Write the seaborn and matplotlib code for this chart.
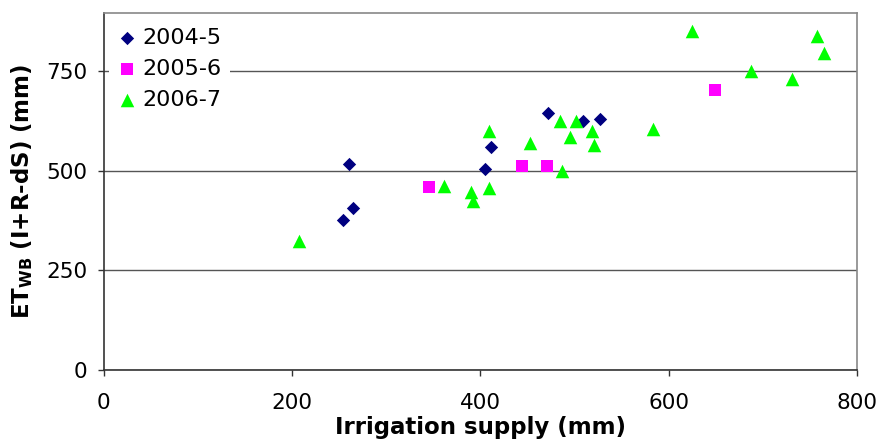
import matplotlib
matplotlib.use("Agg")
import matplotlib.pyplot as plt
import seaborn as sns
import pandas as pd

# 2004-5 season
x_0405 = [254, 261, 265, 405, 411, 472, 509, 527]
y_0405 = [376, 517, 406, 506, 561, 646, 626, 631]
# 2005-6 season
x_0506 = [346, 444, 471, 649]
y_0506 = [459, 513, 513, 703]
# 2006-7 season
x_0607 = [208, 362, 390, 392, 409, 409, 453, 485, 487, 495, 502, 519, 521, 583, 625, 688, 731, 758, 765]
y_0607 = [325, 461, 446, 425, 457, 601, 570, 625, 501, 585, 625, 601, 565, 605, 851, 751, 732, 840, 796]

seasons = ["2004-5", "2005-6", "2006-7"]
x_ticks = [0, 200, 400, 600, 800]
y_ticks = [0, 250, 500, 750]

df = pd.DataFrame({
    "x": x_0405 + x_0506 + x_0607,
    "y": y_0405 + y_0506 + y_0607,
    "season": [seasons[0]] * len(x_0405) + [seasons[1]] * len(x_0506) + [seasons[2]] * len(x_0607),
})

sns.set_style("white")
plt.rcParams["font.family"] = ["DejaVu Sans"]

fig = plt.figure(figsize=(8.78, 4.41), dpi=100)
ax = fig.add_axes([0.1179, 0.161, 0.976 - 0.1179, 0.970 - 0.161])

palette = {"2004-5": "#000080", "2005-6": "#FF00FF", "2006-7": "#00FF00"}
markers = {"2004-5": "D", "2005-6": "s", "2006-7": "^"}
sizes = {"2004-5": 46, "2005-6": 64, "2006-7": 95}

for s in seasons:
    sub = df[df["season"] == s]
    sns.scatterplot(data=sub, x="x", y="y", color=palette[s], marker=markers[s],
                    s=sizes[s], linewidth=0, ax=ax, label=s, zorder=3)

ax.set_xlim(0, 800)
ax.set_ylim(0, 896)
ax.set_xticks(x_ticks)
ax.set_yticks(y_ticks)
ax.set_xticklabels([str(v) for v in x_ticks])
ax.set_yticklabels([str(v) for v in y_ticks])

ax.yaxis.grid(True, color="#555555", linewidth=1.0)
ax.xaxis.grid(False)
ax.set_axisbelow(True)

for side in ["top", "right"]:
    ax.spines[side].set_color("#888888")
    ax.spines[side].set_linewidth(1.2)
for side in ["left", "bottom"]:
    ax.spines[side].set_color("#333333")
    ax.spines[side].set_linewidth(1.2)

ax.tick_params(axis="both", direction="out", length=4.3, width=1, color="#333333",
               labelsize=15.5, labelcolor="black", left=True, bottom=True)
ax.tick_params(axis="x", pad=12.5)
ax.tick_params(axis="y", pad=7.5)

ax.set_xlabel("Irrigation supply (mm)", fontsize=16.5, fontweight="bold",
              color="black", labelpad=2)
ax.set_ylabel(r"ET$_\mathbf{WB}$ (I+R-dS) (mm)", fontsize=16.5, fontweight="bold",
              color="black", labelpad=8)

leg = ax.legend(loc="upper left", bbox_to_anchor=(0.0, 1.0), fontsize=16,
                frameon=True, facecolor="white", edgecolor="none", framealpha=1,
                handletextpad=0.3, labelspacing=0.5, borderpad=0.4,
                handlelength=0.8, borderaxespad=0.25, fancybox=False)
leg.get_frame().set_linewidth(0)
for t in leg.get_texts():
    t.set_color("black")

fig.savefig("out.png", dpi=100)
